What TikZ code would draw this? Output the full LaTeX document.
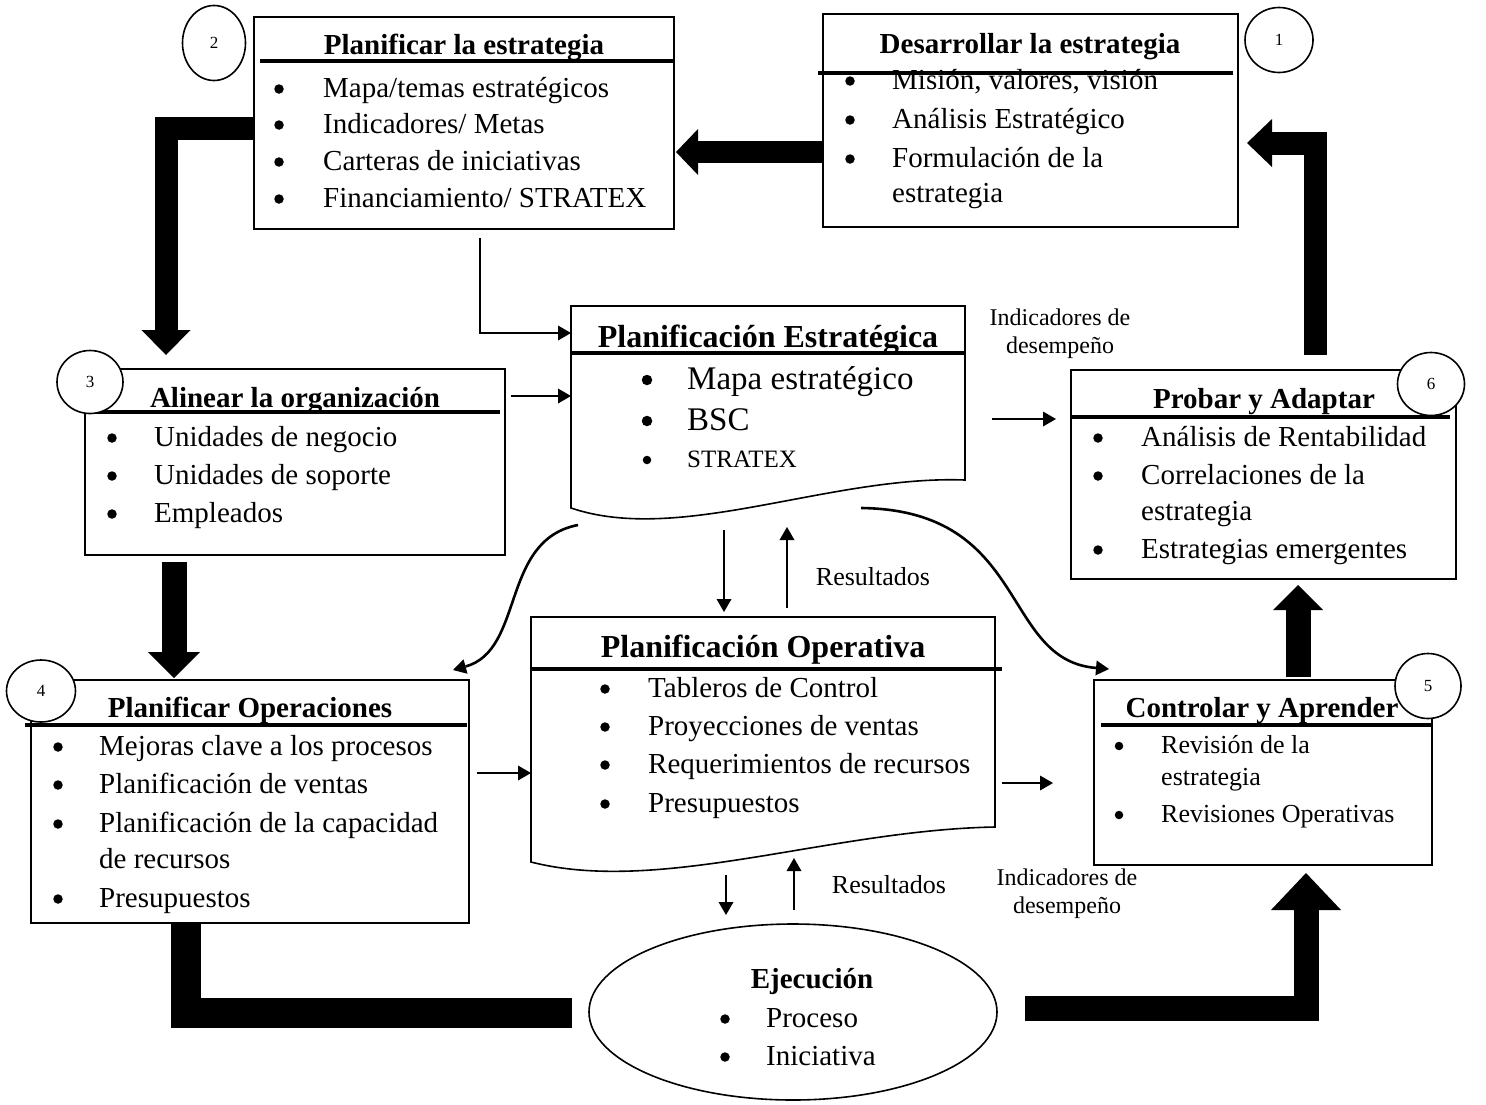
\documentclass[tikz,border=0pt]{standalone}
\usepackage{fontspec}
\setmainfont{Liberation Serif}
\usetikzlibrary{arrows.meta,calc,shapes.geometric}
\tikzset{
  boxn/.style={draw, line width=1.6pt, rectangle, inner sep=0pt, outer sep=0pt, anchor=north west},
  docn/.style={inner sep=0pt, outer sep=0pt, anchor=north west},
  docline/.style={line width=1.6pt, line join=miter},
  hdr/.style={line width=4pt},
  numc/.style={draw, fill=white, ellipse, line width=1.6pt, inner sep=0pt, font=\fontsize{17}{17}\selectfont},
  itm/.style={anchor=base west, inner sep=0pt, font=\fontsize{29}{29}\selectfont},
  bul/.style={circle, fill, inner sep=0pt, minimum size=9.5pt, yshift=8pt},
  itms/.style={anchor=base west, inner sep=0pt, font=\fontsize{26}{26}\selectfont},
  buls/.style={circle, fill, inner sep=0pt, minimum size=8.5pt, yshift=7pt},
  itmb/.style={anchor=base west, inner sep=0pt, font=\fontsize{33}{33}\selectfont},
  bulb/.style={circle, fill, inner sep=0pt, minimum size=10.5pt, yshift=9pt},
  ttl/.style={anchor=base, inner sep=0pt, font=\bfseries\fontsize{29}{29}\selectfont},
  ttlb/.style={anchor=base, inner sep=0pt, font=\bfseries\fontsize{32}{32}\selectfont},
  lbl/.style={anchor=base, inner sep=0pt, font=\fontsize{24}{24}\selectfont},
  lblr/.style={anchor=base, inner sep=0pt, font=\fontsize{26}{26}\selectfont},
  thinarr/.style={line width=2.6pt, -{Triangle[length=13pt,width=15pt,line width=0pt]}},
  fat/.style={line join=miter, line cap=butt},
}
\begin{document}
\begin{tikzpicture}[x=1pt,y=-1pt]
\useasboundingbox (0,0) rectangle (1486,1104);

% ---------- Box 2: Planificar la estrategia
\node[boxn, minimum width=420pt, minimum height=212pt] (b2) at (254,17) {};
\draw[hdr] (260,61) -- (674,61);
\node[ttl] (b2t) at (464,54) {Planificar la estrategia};
\node[bul] (b2b1) at (279,97) {};  \node[itm] (b2i1) at (323,97) {Mapa/temas estratégicos};
\node[bul] (b2b2) at (279,133) {}; \node[itm] (b2i2) at (323,133) {Indicadores/ Metas};
\node[bul] (b2b3) at (279,170) {}; \node[itm] (b2i3) at (323,170) {Carteras de iniciativas};
\node[bul] (b2b4) at (279,207) {}; \node[itm] (b2i4) at (323,207) {Financiamiento/ STRATEX};

% ---------- Box 1: Desarrollar la estrategia
\node[boxn, minimum width=415pt, minimum height=213pt] (b1) at (823,14) {};
\node[ttl] (b1t) at (1030,53) {Desarrollar la estrategia};
\node[bul] (b1b1) at (850,89) {};  \node[itm] (b1i1) at (892,89) {Misión, valores, visión};
\node[bul] (b1b2) at (850,128) {}; \node[itm] (b1i2) at (892,128) {Análisis Estratégico};
\node[bul] (b1b3) at (850,167) {}; \node[itm] (b1i3) at (892,167) {Formulación de la};
\node[itm] (b1i4) at (892,202) {estrategia};
\draw[hdr] (818,73) -- (1233,73);

% ---------- Box 3: Alinear la organizacion
\node[boxn, minimum width=420pt, minimum height=186pt] (b3) at (85,369) {};
\draw[hdr] (85,412) -- (500,412);
\node[ttl] (b3t) at (295,407) {Alinear la organización};
\node[bul] (b3b1) at (112,446) {}; \node[itm] (b3i1) at (154,446) {Unidades de negocio};
\node[bul] (b3b2) at (112,484) {}; \node[itm] (b3i2) at (154,484) {Unidades de soporte};
\node[bul] (b3b3) at (112,522) {}; \node[itm] (b3i3) at (154,522) {Empleados};

% ---------- Planificacion Estrategica (document shape)
\node[docn, minimum width=394pt, minimum height=214pt] (pe) at (571,306) {};
\draw[docline] (571,508) -- (571,306) -- (965,306) -- (965,480)
  .. controls (830,475) and (680,545) .. (571,508) -- cycle;
\draw[hdr] (571,353) -- (965,353);
\node[ttlb] (pet) at (768,347) {Planificación Estratégica};
\node[bulb] (peb1) at (647,389) {}; \node[itmb] (pei1) at (687,389) {Mapa estratégico};
\node[bulb] (peb2) at (647,430) {}; \node[itmb] (pei2) at (687,430) {BSC};
\node[buls] (peb3) at (647,467) {}; \node[itms, font=\fontsize{25}{25}\selectfont] (pei3) at (687,467) {STRATEX};

% ---------- Box 6: Probar y Adaptar
\node[boxn, minimum width=385pt, minimum height=209pt] (b6) at (1071,370) {};
\draw[hdr] (1071,417) -- (1450,417);
\node[ttl] (b6t) at (1264,408) {Probar y Adaptar};
\node[bul] (b6b1) at (1098,446) {}; \node[itm] (b6i1) at (1141,446) {Análisis de Rentabilidad};
\node[bul] (b6b2) at (1098,484) {}; \node[itm] (b6i2) at (1141,484) {Correlaciones de la};
\node[itm] (b6i3) at (1141,520) {estrategia};
\node[bul] (b6b4) at (1098,558) {}; \node[itm] (b6i4) at (1141,558) {Estrategias emergentes};

% ---------- Box 4: Planificar Operaciones
\node[boxn, minimum width=438pt, minimum height=243pt] (b4) at (31,680) {};
\draw[hdr] (25,725) -- (467,725);
\node[ttl] (b4t) at (250,717) {Planificar Operaciones};
\node[bul] (b4b1) at (58,755) {}; \node[itm] (b4i1) at (99,755) {Mejoras clave a los procesos};
\node[bul] (b4b2) at (58,793) {}; \node[itm] (b4i2) at (99,793) {Planificación de ventas};
\node[bul] (b4b3) at (58,832) {}; \node[itm] (b4i3) at (99,832) {Planificación de la capacidad};
\node[itm] (b4i4) at (99,868) {de recursos};
\node[bul] (b4b5) at (58,907) {}; \node[itm] (b4i5) at (99,907) {Presupuestos};

% ---------- Planificacion Operativa (document shape)
\node[docn, minimum width=464pt, minimum height=253pt] (po) at (531,617) {};
\draw[docline] (531,862) -- (531,617) -- (995,617) -- (995,827)
  .. controls (830,830) and (660,895) .. (531,862) -- cycle;
\draw[hdr] (531,669) -- (1002,669);
\node[ttlb] (pot) at (763,657) {Planificación Operativa};
\node[bul] (pob1) at (605,697) {}; \node[itm] (poi1) at (648,697) {Tableros de Control};
\node[bul] (pob2) at (605,735) {}; \node[itm] (poi2) at (648,735) {Proyecciones de ventas};
\node[bul] (pob3) at (605,773) {}; \node[itm] (poi3) at (648,773) {Requerimientos de recursos};
\node[bul] (pob4) at (605,812) {}; \node[itm] (poi4) at (648,812) {Presupuestos};

% ---------- Box 5: Controlar y Aprender
\node[boxn, minimum width=338pt, minimum height=185pt] (b5) at (1094,680) {};
\draw[hdr] (1101,725) -- (1432,725);
\node[ttl] (b5t) at (1262,717) {Controlar y Aprender};
\node[buls] (b5b1) at (1119,753) {}; \node[itms] (b5i1) at (1161,753) {Revisión de la};
\node[itms] (b5i2) at (1161,785) {estrategia};
\node[buls] (b5b3) at (1119,822) {}; \node[itms] (b5i3) at (1161,822) {Revisiones Operativas};

% ---------- Ejecucion
\node[draw, ellipse, line width=1.6pt, minimum width=408pt, minimum height=176pt, inner sep=0pt] (ej) at (793,1012) {};
\node[ttl] (ejt) at (812,988) {Ejecución};
\node[bul] (ejb1) at (725,1027) {}; \node[itm] (eji1) at (766,1027) {Proceso};
\node[bul] (ejb2) at (725,1065) {}; \node[itm] (eji2) at (766,1065) {Iniciativa};

% ---------- Labels
\node[lbl] (ind1a) at (1060,325) {Indicadores de};
\node[lbl] (ind1b) at (1060,353) {desempeño};
\node[lbl] (ind2a) at (1067,885) {Indicadores de};
\node[lbl] (ind2b) at (1067,913) {desempeño};
\node[lblr] (res1) at (873,585) {Resultados};
\node[lblr] (res2) at (889,893) {Resultados};

% ---------- Thin arrows
\coordinate (a1s) at (480,238);
\draw[thinarr] (a1s) |- ($(pe.north west)+(0,27)$);
\draw[thinarr] ($(b3.north east)+(6,27)$) -- ($(pe.north west)+(0,90)$);
\draw[thinarr] ($(pe.north east)+(27,113)$) -- ($(b6.north west)+(-15,49)$);
\draw[thinarr] ($(pe.north west)+(153,224)$) -- ($(po.north west)+(193,-5)$);
\draw[thinarr] ($(po.north west)+(256,-9)$) -- ($(pe.north west)+(216,221)$);
\draw[thinarr] ($(b4.north east)+(8,93)$) -- ($(po.north west)+(0,156)$);
\draw[thinarr] ($(po.north east)+(7,166)$) -- ($(b5.north west)+(-41,103)$);
\draw[thinarr] ($(po.north west)+(195,258)$) -- ($(ej.center)+(-67,-97)$);
\draw[thinarr] ($(ej.center)+(1,-102)$) -- ($(po.north west)+(263,241)$);

% ---------- Curved arrows
\coordinate (c1s) at (578,525);
\draw[thinarr] (c1s) .. controls (500,540) and (525,650) .. ($(b4.north east)+(-16,-10)$);
\coordinate (c2s) at (861,508);
\draw[thinarr] (c2s) .. controls (1030,510) and (1000,660) .. ($(b5.north west)+(15,-11)$);

% ---------- Fat arrows
\draw[fat, line width=22pt, -{Triangle[length=22pt,width=46pt,line width=0pt]}]
  ($(b1.north west)+(0,138)$) -- ($(b2.north east)+(2,135)$);
\draw[fat, line width=23pt, -{Triangle[length=25pt,width=48pt,line width=0pt]}]
  ($(b6.north west)+(244,-15)$) |- ($(b1.north east)+(9,129)$);
\draw[fat, line width=23pt, -{Triangle[length=25pt,width=49pt,line width=0pt]}]
  ($(b2.north west)+(0,111)$) -| ($(b3.north west)+(81,-14)$);
\draw[fat, line width=25pt, -{Triangle[length=26pt,width=52pt,line width=0pt]}]
  ($(b3.south west)+(89,7)$) -- ($(b4.north west)+(143,-2)$);
\draw[fat, line width=25pt, -{Triangle[length=25pt,width=50pt,line width=0pt]}]
  ($(b5.north west)+(204,-3)$) -- ($(b6.south west)+(227,6)$);
\draw[fat, line width=30pt]
  ($(b4.south west)+(155,0)$) |- ($(ej.west)+(-16,1)$);
\draw[fat, line width=25pt, -{Triangle[length=37pt,width=70pt,line width=0pt]}]
  ($(ej.east)+(27,-4)$) -| ($(b5.south west)+(212,8)$);

% ---------- Number circles
\node[numc, minimum width=68pt, minimum height=65pt] (n1) at (1279,40) {1};
\node[numc, minimum width=63pt, minimum height=75pt] (n2) at (214,43) {2};
\node[numc, minimum width=66pt, minimum height=63pt] (n3) at (90,382) {3};
\node[numc, minimum width=69pt, minimum height=62pt] (n4) at (41,691) {4};
\node[numc, minimum width=66pt, minimum height=65pt] (n5) at (1428,686) {5};
\node[numc, minimum width=67pt, minimum height=63pt] (n6) at (1431,384) {6};
\end{tikzpicture}
\end{document}
